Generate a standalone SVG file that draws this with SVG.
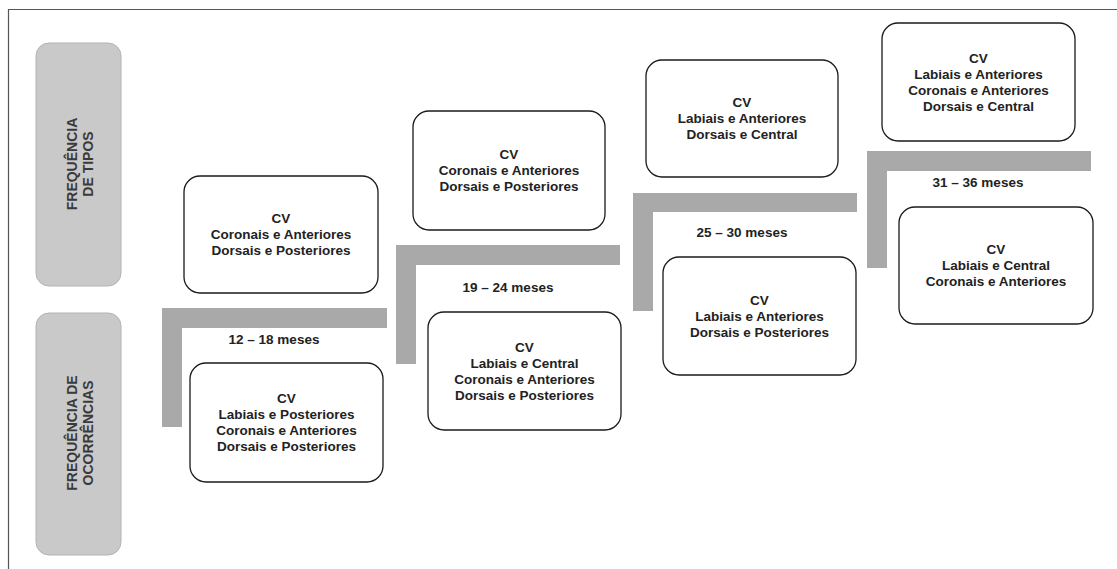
<svg xmlns="http://www.w3.org/2000/svg" width="1117" height="569" viewBox="0 0 1117 569">
  <style>
    .axis rect { fill: #c9c9c9; stroke: #b3b3b3; stroke-width: 1; }
    .axis text { font-family: "Liberation Sans", Arial, sans-serif; font-weight: bold; font-size: 14px; fill: #3a3a3a; text-anchor: middle; dominant-baseline: central; }
    .node rect { fill: #ffffff; stroke: #1a1a1a; stroke-width: 1.3; }
    .node text, .period { font-family: "Liberation Sans", Arial, sans-serif; font-weight: bold; font-size: 13.5px; fill: #222222; text-anchor: middle; dominant-baseline: central; }
    .step { fill: #a9a9a9; }
    .frame { stroke: #555555; stroke-width: 1.2; fill: none; }
  </style>

  <rect width="1117" height="569" fill="#ffffff"/>
  <path class="frame" d="M8.5,569 V9.5 H1117"/>

  <!-- vertical axis labels -->
  <g id="axis-tipos" class="axis">
    <rect x="36" y="43" width="85" height="243" rx="13"/>
    <text transform="translate(72,164) rotate(-90)">FREQUÊNCIA</text>
    <text transform="translate(88,164) rotate(-90)">DE TIPOS</text>
  </g>
  <g id="axis-ocorrencias" class="axis">
    <rect x="36" y="313" width="85" height="242" rx="13"/>
    <text transform="translate(72,433) rotate(-90)">FREQUÊNCIA DE</text>
    <text transform="translate(88,433) rotate(-90)">OCORRÊNCIAS</text>
  </g>

  <!-- stair steps separating the age ranges -->
  <g id="connectors">
    <path class="step" d="M162,308 H387 V328 H182 V427 H162 Z"/>
    <path class="step" d="M396,245 H620 V265 H416 V364 H396 Z"/>
    <path class="step" d="M633,193 H857 V212 H653 V311 H633 Z"/>
    <path class="step" d="M867,151 H1091 V171 H887 V268 H867 Z"/>
  </g>

  <!-- age range labels -->
  <g id="periods">
    <text class="period" x="274" y="339">12 – 18 meses</text>
    <text class="period" x="508" y="287">19 – 24 meses</text>
    <text class="period" x="742" y="232">25 – 30 meses</text>
    <text class="period" x="978" y="182">31 – 36 meses</text>
  </g>

  <!-- 12–18 months -->
  <g id="tipos-12-18" class="node">
    <rect x="184" y="176" width="194" height="117" rx="16"/>
    <text x="281" y="218.5">CV</text>
    <text x="281" y="234.5">Coronais e Anteriores</text>
    <text x="281" y="250.5">Dorsais e Posteriores</text>
  </g>
  <g id="ocorrencias-12-18" class="node">
    <rect x="190" y="363" width="193" height="119" rx="16"/>
    <text x="286.5" y="398.5">CV</text>
    <text x="286.5" y="414.5">Labiais e Posteriores</text>
    <text x="286.5" y="430.5">Coronais e Anteriores</text>
    <text x="286.5" y="446.5">Dorsais e Posteriores</text>
  </g>

  <!-- 19–24 months -->
  <g id="tipos-19-24" class="node">
    <rect x="413" y="111" width="192" height="119" rx="16"/>
    <text x="509" y="154.5">CV</text>
    <text x="509" y="170.5">Coronais e Anteriores</text>
    <text x="509" y="186.5">Dorsais e Posteriores</text>
  </g>
  <g id="ocorrencias-19-24" class="node">
    <rect x="428" y="312" width="193" height="118" rx="16"/>
    <text x="524.5" y="347">CV</text>
    <text x="524.5" y="363">Labiais e Central</text>
    <text x="524.5" y="379">Coronais e Anteriores</text>
    <text x="524.5" y="395">Dorsais e Posteriores</text>
  </g>

  <!-- 25–30 months -->
  <g id="tipos-25-30" class="node">
    <rect x="646" y="60" width="192" height="117" rx="16"/>
    <text x="742" y="102.5">CV</text>
    <text x="742" y="118.5">Labiais e Anteriores</text>
    <text x="742" y="134.5">Dorsais e Central</text>
  </g>
  <g id="ocorrencias-25-30" class="node">
    <rect x="663" y="257" width="193" height="118" rx="16"/>
    <text x="759.5" y="300">CV</text>
    <text x="759.5" y="316">Labiais e Anteriores</text>
    <text x="759.5" y="332">Dorsais e Posteriores</text>
  </g>

  <!-- 31–36 months -->
  <g id="tipos-31-36" class="node">
    <rect x="882" y="23" width="193" height="118" rx="16"/>
    <text x="978.5" y="58">CV</text>
    <text x="978.5" y="74">Labiais e Anteriores</text>
    <text x="978.5" y="90">Coronais e Anteriores</text>
    <text x="978.5" y="106">Dorsais e Central</text>
  </g>
  <g id="ocorrencias-31-36" class="node">
    <rect x="899" y="207" width="194" height="117" rx="16"/>
    <text x="996" y="249.5">CV</text>
    <text x="996" y="265.5">Labiais e Central</text>
    <text x="996" y="281.5">Coronais e Anteriores</text>
  </g>
</svg>
